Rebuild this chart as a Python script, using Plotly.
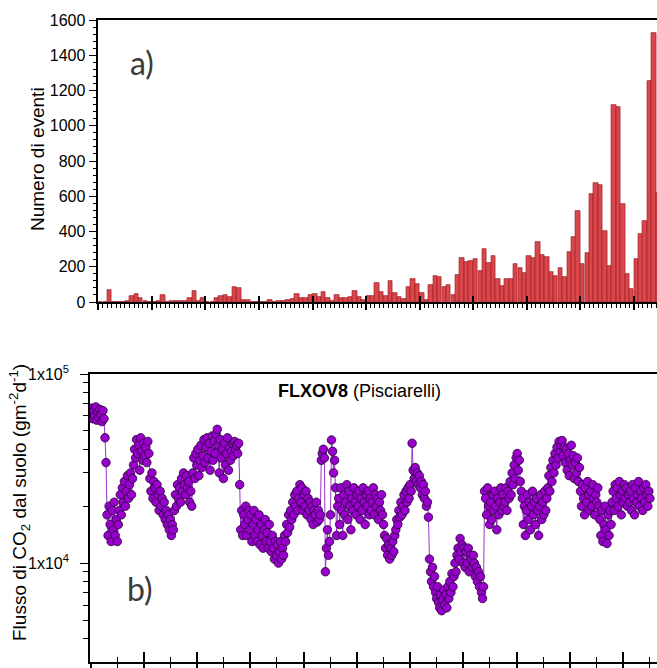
import pandas as pd
import plotly.graph_objects as go

# ---- panel a) : monthly number of events (Jan 2014 ... Jun 2024)
ev_2014 = [0, 0, 68, 0, 0, 0, 8, 35, 45, 22, 7, 0]
ev_2015 = [0, 5, 40, 0, 3, 3, 5, 8, 22, 62, 7, 25]
ev_2016 = [0, 0, 20, 34, 40, 28, 87, 81, 13, 13, 0, 0]
ev_2017 = [0, 0, 10, 0, 3, 5, 10, 17, 45, 22, 22, 40]
ev_2018 = [43, 30, 58, 22, 6, 41, 25, 25, 27, 62, 30, 11]
ev_2019 = [36, 36, 110, 57, 34, 119, 51, 28, 17, 85, 129, 102]
ev_2020 = [53, 11, 94, 147, 140, 83, 96, 40, 153, 248, 225, 232]
ev_2021 = [242, 176, 302, 223, 261, 130, 91, 129, 129, 214, 191, 163]
ev_2022 = [261, 248, 340, 265, 257, 172, 147, 195, 140, 284, 367, 518]
ev_2023 = [216, 276, 613, 677, 662, 405, 206, 1118, 1108, 554, 159, 76]
ev_2024 = [246, 386, 461, 1254, 1528, 618]
events = (ev_2014 + ev_2015 + ev_2016 + ev_2017 + ev_2018 + ev_2019 +
          ev_2020 + ev_2021 + ev_2022 + ev_2023 + ev_2024)
months = pd.date_range("2014-01-01", periods=len(events), freq="MS")
month_mid = months + pd.Timedelta(days=15)

# ---- panel b) : CO2 soil flux FLXOV8, weekly samples from Jan 2014 (values in 10^3 g m-2 d-1)
flux_2014 = [62, 66, 58, 64, 60, 67, 57, 63, 59, 65, 61, 56, 64, 58, 46, 34,
             18, 14, 20, 16, 13, 19, 15, 21, 14, 17, 13, 16,
             19, 23, 18, 25, 21, 27, 20, 24, 29, 22, 26, 30, 23, 28,
             33, 40, 36, 45, 38, 42, 31, 46, 39, 35, 43, 37, 41, 34, 44, 38]
flux_2015 = [28, 24, 30, 22, 27, 25, 21, 26, 23, 19, 24, 20, 22, 18, 21, 17, 19, 16, 18, 15, 17, 14, 16, 15,
             19, 23, 20, 26, 22, 25, 21, 28, 24, 30, 26, 23, 29, 25, 27, 21, 24, 20,
             30, 36, 28, 38, 33, 40, 29, 35, 42, 32]
flux_2016 = [37, 45, 34, 41, 46, 36, 43, 31, 39, 47, 35, 44, 38, 48, 51,
             42, 30, 45, 36, 40, 28, 43, 33, 38, 46, 31, 41, 35, 39,
             43, 37, 44, 40, 42, 38, 43, 26,
             15, 19, 14, 18, 16, 20, 14, 17, 19, 15, 18, 13, 16, 19]
flux_2017 = [14, 17, 13, 15, 18, 12.5, 16, 14, 12, 15, 17, 13, 14.5, 12, 16,
             13, 11.5, 14, 12, 10.5, 13, 11, 12.5, 10, 11.5, 13, 10.5, 12, 11, 14,
             13, 16, 14.5, 18, 15.5, 19, 17, 21, 18, 23, 20, 24, 19, 22, 26,
             21, 25, 19, 23, 20, 24, 18, 22, 19, 21]
flux_2018 = [17, 20, 16, 19, 18, 21, 16.5, 19, 17, 18,
             35, 38, 40, 36, 9, 12, 15, 11, 13, 18, 44.8, 39, 30, 35, 25, 14, 20,
             22, 16, 25, 19, 14, 23, 18, 21, 26, 17, 24, 20, 15, 22, 19, 25, 21, 18, 23, 20,
             24, 17, 22, 19, 25, 21, 16, 23, 20, 24, 18, 22, 19, 21, 25, 18, 23, 20, 22, 17,
             21, 19, 23, 18, 16]
flux_2019 = [14, 12, 13.5, 11, 12.5, 10.5, 12, 11, 13, 11.5, 14,
             15, 17, 16, 19, 17.5, 21, 18, 20, 23, 19, 24, 21, 25, 22, 26, 24,
             43, 31, 28, 32, 27, 30, 26, 29, 25, 27, 23, 26, 22, 24, 20, 21, 17.5,
             10.5, 9, 8, 9.5, 7.5, 8.5, 7, 6.5, 7.5, 6.2, 5.8, 6.8, 5.6, 6.4, 7.2, 6, 6.8, 5.8,
             7.5, 6.5, 8, 7, 8.8, 7.5]
flux_2020 = [8.5, 10, 9, 11, 12, 10.5, 13.5, 11.5, 12.5, 10, 12, 9.5, 11.5, 10, 12,
             9, 11, 10.5, 9.5, 11, 10, 8.5, 9.5, 8, 9, 7.5, 8.5, 7, 6.5, 7.5,
             24, 22, 18, 25, 20, 16, 21, 17, 23, 19, 24, 20, 15, 22, 18, 21, 25, 19, 23, 20]
flux_2021 = [21, 25, 19, 24, 22, 27, 23, 30, 26, 33, 28, 36, 38, 31, 35, 27, 24,
             22, 16, 20, 14, 19, 23, 17, 21, 15, 20, 24, 18, 21, 16, 22, 19, 14, 20, 23, 17,
             21, 18, 24, 19, 22]
flux_2022 = [25, 29, 24, 32, 27, 35, 30, 38, 33, 41, 36, 44, 39, 42, 44.5, 37, 41, 34, 40, 31,
             38, 29, 35, 42, 33, 37, 28, 34, 30, 36, 27, 32,
             24, 20, 26, 22, 18, 25, 21, 27, 23, 19, 24, 20, 26, 22, 18, 23, 21, 25, 20]
flux_2023 = [17, 14, 19, 13, 16, 20, 15, 12.7, 18, 14, 19, 16,
             21, 24, 19, 26, 22, 25, 20, 27, 23, 18, 24, 21, 26, 22, 25, 20, 23, 21, 24, 19,
             26, 22, 18, 25, 21, 23, 27, 20, 24, 22, 19, 25, 21, 26, 23, 20, 24, 22]
flux_k = (flux_2014 + flux_2015 + flux_2016 + flux_2017 + flux_2018 + flux_2019 +
          flux_2020 + flux_2021 + flux_2022 + flux_2023)
flux = [v * 1000 for v in flux_k]
flux_dates = pd.date_range("2014-01-01", periods=len(flux), freq="7D")

FONT = "Liberation Sans, Arial, sans-serif"
W, H = 657, 668
OFF = 0  # page body margin is removed by the post script


def px_x(p):
    return (p - OFF) / W


def px_y(p):
    return (H - (p - OFF)) / H


fig = go.Figure()
fig.add_trace(go.Bar(
    x=month_mid, y=events, width=30.4 * 86400000,
    marker=dict(color="#d9474d", line=dict(color="#9c1d22", width=0.7)),
    xaxis="x", yaxis="y", showlegend=False, hoverinfo="skip"))
fig.add_trace(go.Scatter(
    x=flux_dates, y=flux, mode="lines+markers",
    line=dict(color="#9a33cc", width=1),
    marker=dict(size=8.5, color="#9900cc", line=dict(color="#220033", width=0.8)),
    xaxis="x2", yaxis="y2", showlegend=False, hoverinfo="skip"))
# helper empty traces so that overlay axes (tick crossings) are drawn
fig.add_trace(go.Scatter(x=[], y=[], xaxis="x3", yaxis="y", showlegend=False))
fig.add_trace(go.Scatter(x=[], y=[], xaxis="x4", yaxis="y2", showlegend=False))

top_dom_x = [px_x(98.4), 1]
bot_dom_x = [px_x(90), 1]
top_dom_y = [px_y(302), px_y(20)]
bot_dom_y = [px_y(662), px_y(374)]
top_range = ["2014-01-01", "2024-06-06"]
bot_range = ["2013-12-27", "2024-08-21"]

axline = dict(showline=True, linecolor="black", linewidth=1.6, showgrid=False,
              zeroline=False, automargin=False)

fig.update_layout(
    width=W, height=H, margin=dict(l=0, r=0, t=0, b=0),
    paper_bgcolor="white", plot_bgcolor="white", bargap=0,
    font=dict(family=FONT, size=16, color="black"),
    xaxis=dict(domain=top_dom_x, anchor="y", type="date", range=top_range,
               mirror=True, ticks="outside", ticklen=6, tickwidth=1.6, tickcolor="black",
               dtick="M12", tick0="2014-01-01", showticklabels=False,
               minor=dict(ticks="outside", ticklen=4, dtick="M1", tickcolor="black", tickwidth=1),
               **axline),
    yaxis=dict(domain=top_dom_y, anchor="x", range=[0, 1600], dtick=200,
               ticks="outside", ticklen=8, tickwidth=1.4, tickcolor="black",
               minor=dict(ticks="outside", ticklen=4, dtick=40, tickcolor="black", tickwidth=1),
               tickfont=dict(size=16), **axline),
    xaxis3=dict(domain=top_dom_x, anchor="y", overlaying="x", type="date", range=top_range,
                ticks="inside", ticklen=6, tickwidth=1.6, tickcolor="black",
                dtick="M12", tick0="2014-01-01", showticklabels=False,
                showline=False, showgrid=False, zeroline=False),
    xaxis2=dict(domain=bot_dom_x, anchor="y2", type="date", range=bot_range,
                mirror=True, ticks="inside", ticklen=10, tickwidth=1.6, tickcolor="black",
                dtick="M12", tick0="2014-01-01", showticklabels=False,
                minor=dict(ticks="inside", ticklen=5, dtick="M6", tickcolor="black", tickwidth=1.2),
                **axline),
    xaxis4=dict(domain=bot_dom_x, anchor="y2", overlaying="x2", type="date", range=bot_range,
                ticks="outside", ticklen=6, tickwidth=1.6, tickcolor="black",
                dtick="M12", tick0="2014-01-01", showticklabels=False,
                minor=dict(ticks="outside", ticklen=5, dtick="M6", tickcolor="black", tickwidth=1.2),
                showline=False, showgrid=False, zeroline=False),
    yaxis2=dict(domain=bot_dom_y, anchor="x2", type="log", range=[3.4771, 5],
                tickmode="array", tickvals=[1e4, 1e5],
                ticktext=["1x10<sup>4</sup>", "1x10<sup>5</sup>"],
                ticks="outside", ticklen=8, tickwidth=1.4, tickcolor="black",
                ticklabelstandoff=8, tickfont=dict(size=16),
                minor=dict(ticks="outside", ticklen=5, tickcolor="black", tickwidth=1,
                           tickmode="array",
                           tickvals=[4000, 5000, 6000, 7000, 8000, 9000,
                                     20000, 30000, 40000, 50000, 60000, 70000, 80000, 90000]),
                **axline),
)

ann = dict(xref="paper", yref="paper", showarrow=False, xanchor="center", yanchor="middle")
fig.add_annotation(text="Numero di eventi", x=px_x(37), y=px_y(159), textangle=-90,
                   font=dict(size=19, family=FONT), **ann)
fig.add_annotation(text="Flusso di CO<sub>2</sub> dal suolo (gm<sup>-2</sup>d<sup>-1</sup>)",
                   x=px_x(19), y=px_y(503), textangle=-90,
                   font=dict(size=19, family=FONT), **ann)
fig.add_annotation(text="<b>FLXOV8</b> (Pisciarelli)", x=px_x(359), y=px_y(391),
                   font=dict(size=18, family=FONT), **ann)
fig.add_annotation(text="a)", x=px_x(142), y=px_y(63),
                   font=dict(size=32, family="Lato, sans-serif", color="#3a3a3a"), **ann)
fig.add_annotation(text="b)", x=px_x(140), y=px_y(588),
                   font=dict(size=32, family="Lato, sans-serif", color="#3a3a3a"), **ann)

fig.write_html(
    "out.html",
    config={"displayModeBar": False},
    post_script="document.body.style.margin='0';document.body.style.overflow='hidden';")
